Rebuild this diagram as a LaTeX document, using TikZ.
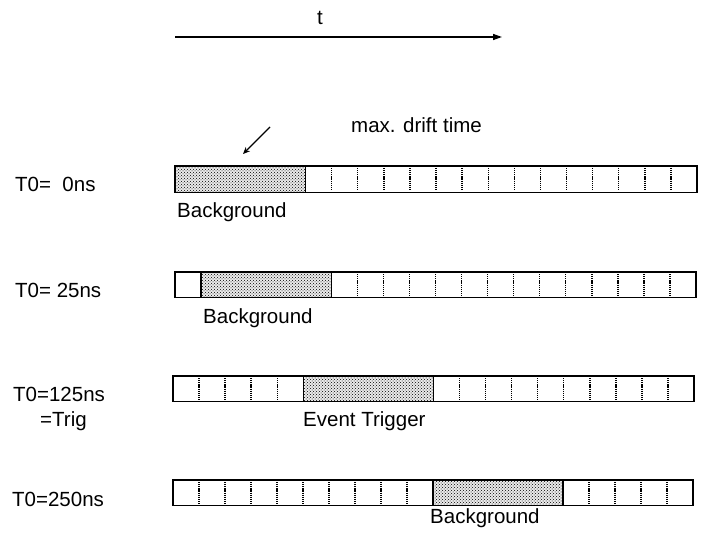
\documentclass[tikz,border=0pt]{standalone}
\usepackage{fontspec}
\setmainfont{Liberation Sans}
\usetikzlibrary{patterns,arrows.meta}
\newcommand\mystrip[6]{% x0, w, top, bottom, shade start cell, shade end cell
  \fill[black!8] ({#1+#5*#2},#3) rectangle ({#1+#6*#2},#4);
  \fill[stipple] ({#1+#5*#2},#3) rectangle ({#1+#6*#2},#4);
  \foreach \i in {1,...,19}{%
    \pgfmathtruncatemacro\kind{((\i<#5) || (\i>#6)) ? 1 : (((\i==#5) || (\i==#6)) ? 2 : 0)}%
    \ifnum\kind=1 \draw[divider] ({#1+\i*#2},{#3+2}) -- ({#1+\i*#2},{#4-2});\fi
    \ifnum\kind=2 \draw[frame] ({#1+\i*#2},#3) -- ({#1+\i*#2},#4);\fi
  }%
  \draw[frame] (#1,#3) rectangle ({#1+20*#2},#4);
}
\begin{document}
\begin{tikzpicture}[x=1pt,y=-1pt,
  lbl/.style={font=\fontsize{20.5}{24}\selectfont, inner sep=0pt, anchor=base west},
  frame/.style={line width=1.5pt},
  divider/.style={line width=1.4pt, dash pattern=on 1.2pt off 0.9pt},
  stipple/.style={pattern=crosshatch dots, pattern color=black},
  conn/.style={line width=1.4pt}]
\useasboundingbox (0,0) rectangle (701,540);

% time axis
\coordinate (ts) at (175,37);
\coordinate (te) at (502,37);
\draw[conn,-{Triangle[length=9pt,width=6pt]}] (ts) -- (te);
\node[lbl] (t) at (317,25) {t};

% max drift time
\node[lbl] (mdt) at (351,133) {max. drift time};
\coordinate (ma) at (270,127);
\coordinate (mb) at (243,154);
\draw[line width=1.2pt,-{Stealth[length=7pt,width=6pt]}] (ma) -- (mb);

% strips
\mystrip{175}{26.1}{166}{192.5}{0}{5}
\mystrip{175}{26.05}{272}{297.5}{1}{6}
\mystrip{173}{26.05}{376}{401.7}{5}{10}
\mystrip{173}{26}{480}{505.5}{10}{15}

% left labels
\node[lbl] (l1) at (15,192) {T0=\ \ 0ns};
\node[lbl] (l2) at (15,297) {T0=\ 25ns};
\node[lbl] (l3) at (13,401) {T0=125ns};
\node[lbl] (l3b) at (40,426) {=Trig};
\node[lbl] (l4) at (12,506) {T0=250ns};

% strip labels
\node[lbl] (b1) at (177,218) {Background};
\node[lbl] (b2) at (203,323) {Background};
\node[lbl] (ev) at (303,426.5) {Event Trigger};
\node[lbl] (b4) at (430,523) {Background};
\end{tikzpicture}
\end{document}
